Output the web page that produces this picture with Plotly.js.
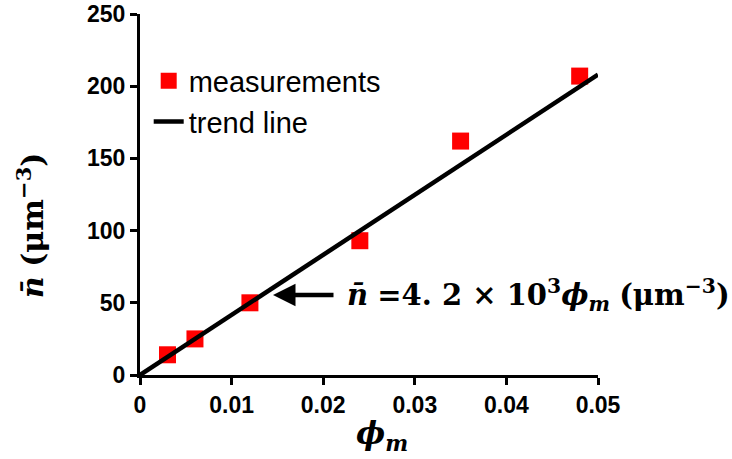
<!DOCTYPE html>
<html>
<head>
<meta charset="utf-8">
<script src="https://cdn.plot.ly/plotly-3.0.1.min.js"></script>
<style>html,body{margin:0;padding:0;background:#fff;}#chart{width:732px;height:459px;}</style>
</head>
<body>
<div id="chart"></div>
<script>
// Measured data
const phiM = [0.003, 0.006, 0.012, 0.024, 0.035, 0.048];
const nBar = [14, 25, 50, 93, 162, 207];
// Trend line endpoints
const trendX = [0, 0.05];
const trendY = [0, 208];
// Ticks
const xTicks = [0, 0.01, 0.02, 0.03, 0.04, 0.05];
const xTickLabels = ['0', '0.01', '0.02', '0.03', '0.04', '0.05'];
const yTicks = [0, 50, 100, 150, 200, 250];
const yTickLabels = ['0', '50', '100', '150', '200', '250'];

const serif = 'DejaVu Serif';
const sans = 'Liberation Sans';

const traces = [
  {
    x: phiM, y: nBar, mode: 'markers', type: 'scatter', name: 'measurements',
    marker: {symbol: 'square', size: 17, color: '#ff0000', line: {width: 0}},
    cliponaxis: false
  },
  {
    x: trendX, y: trendY, mode: 'lines', type: 'scatter', name: 'trend line',
    line: {color: '#000000', width: 4.5}
  }
];

const axisCommon = {
  showline: true, linecolor: '#000', linewidth: 3,
  ticks: 'outside', ticklen: 7, tickwidth: 3, tickcolor: '#000',
  showgrid: false, zeroline: false,
  tickfont: {family: sans, size: 23, color: '#000', weight: 'bold'},
  fixedrange: true
};

const layout = {
  width: 732, height: 459,
  margin: {l: 140, r: 134, t: 14, b: 84},
  paper_bgcolor: '#fff', plot_bgcolor: '#fff',
  showlegend: true,
  legend: {
    x: 0.019, y: 0.885, xanchor: 'left', yanchor: 'top',
    font: {family: sans, size: 29, color: '#000'},
    bgcolor: 'rgba(0,0,0,0)', tracegroupgap: 0
  },
  xaxis: Object.assign({}, axisCommon, {
    range: [0, 0.05], tickvals: xTicks, ticktext: xTickLabels
  }),
  yaxis: Object.assign({}, axisCommon, {
    range: [0, 250], tickvals: yTicks, ticktext: yTickLabels
  }),
  annotations: [
    {
      xref: 'paper', yref: 'paper', x: -0.238, y: 0.415,
      xanchor: 'center', yanchor: 'middle', textangle: -90, showarrow: false,
      text: '<b><i>n̄</i></b> <b>(μm<sup>−3</sup>)</b>',
      font: {family: serif, size: 30, color: '#000'}
    },
    {
      xref: 'paper', yref: 'paper', x: 0.528, y: -0.168,
      xanchor: 'center', yanchor: 'middle', showarrow: false,
      text: '<b><i>ϕ</i></b><sub><b><i>m</i></b></sub>',
      font: {family: serif, size: 31, color: '#000'}
    },
    {
      xref: 'x', yref: 'y', x: 0.01452, y: 55.4, ax: 62, ay: 0,
      axref: 'pixel', ayref: 'pixel',
      text: '', showarrow: true, arrowhead: 2, arrowsize: 1, arrowwidth: 4.5, arrowcolor: '#000'
    },
    {
      xref: 'x', yref: 'y', x: 0.0224, y: 55.4, xanchor: 'left', yanchor: 'middle',
      showarrow: false,
      text: '<b><i>n̄</i></b> <b>=4. 2 × 10<sup>3</sup></b><b><i>ϕ</i></b><sub><b><i>m</i></b></sub> <b>(μm<sup>−3</sup>)</b>',
      font: {family: serif, size: 29, color: '#000'}
    }
  ]
};

Plotly.newPlot('chart', traces, layout, {displayModeBar: false, staticPlot: true});
</script>
</body>
</html>
